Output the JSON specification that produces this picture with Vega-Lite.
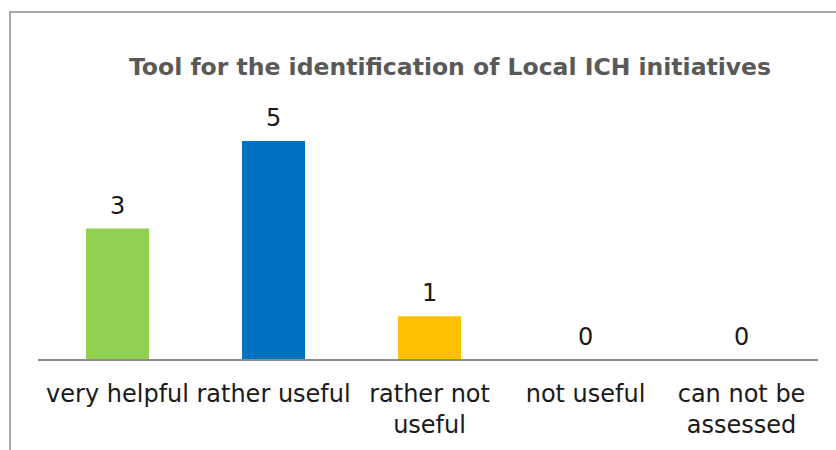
{
  "$schema": "https://vega.github.io/schema/vega-lite/v6.json",
  "width": 880,
  "height": 448,
  "autosize": "none",
  "padding": {"left": 10, "top": 12, "right": 0, "bottom": 0},
  "background": "white",
  "config": {
    "view": {"stroke": "#8c8c8c", "strokeWidth": 1.5},
    "font": "DejaVu Sans"
  },
  "title": {
    "text": "Tool for the identification of Local ICH initiatives",
    "anchor": "middle",
    "frame": "group",
    "orient": "top",
    "baseline": "alphabetic",
    "offset": -86,
    "fontSize": 23.5,
    "fontWeight": "bold",
    "color": "#595959",
    "font": "DejaVu Sans"
  },
  "datasets": {
    "bars": [
      {"category": "very helpful", "value": 3, "color": "#92D050"},
      {"category": "rather useful", "value": 5, "color": "#0070C0"},
      {"category": "rather not useful", "value": 1, "color": "#FFC000"},
      {"category": "not useful", "value": 0, "color": "#FFFFFF"},
      {"category": "can not be assessed", "value": 0, "color": "#FFFFFF"}
    ],
    "base": [
      {"start": "very helpful", "end": "can not be assessed"}
    ]
  },
  "layer": [
    {
      "data": {"name": "bars"},
      "mark": {"type": "bar"},
      "encoding": {
        "x": {
          "field": "category",
          "type": "nominal",
          "sort": null,
          "scale": {
            "domain": ["very helpful", "rather useful", "rather not useful", "not useful", "can not be assessed"],
            "paddingInner": 0.596, "paddingOuter": 0.6185, "align": 0.394
          },
          "axis": {
            "title": null,
            "orient": "bottom",
            "offset": -100,
            "domain": false,
            "ticks": false,
            "labelAngle": 0,
            "labelFontSize": 24,
            "labelColor": "#1a1a1a",
            "labelFont": "DejaVu Sans",
            "labelPadding": 22,
            "labelLineHeight": 31,
            "labelLimit": 0,
            "labelExpr": "datum.value == 'rather not useful' ? ['rather not', 'useful'] : datum.value == 'can not be assessed' ? ['can not be', 'assessed'] : datum.value"
          }
        },
        "y": {
          "field": "value",
          "type": "quantitative",
          "scale": {"domain": [-2.283, 7.945], "nice": false, "zero": false},
          "axis": null
        },
        "y2": {"datum": 0},
        "color": {"field": "color", "type": "nominal", "scale": null, "legend": null}
      }
    },
    {
      "data": {"name": "bars"},
      "mark": {"type": "text", "baseline": "alphabetic", "dy": -15, "fontSize": 24, "color": "#1a1a1a"},
      "encoding": {
        "x": {"field": "category", "type": "nominal", "sort": null},
        "y": {"field": "value", "type": "quantitative"},
        "text": {"field": "value", "type": "quantitative"}
      }
    },
    {
      "data": {"name": "base"},
      "mark": {"type": "rule", "color": "#8c8c8c", "strokeWidth": 2},
      "encoding": {
        "x": {"field": "start", "type": "nominal", "bandPosition": -0.762, "sort": null},
        "x2": {"field": "end", "bandPosition": 1.714},
        "y": {"datum": 0}
      }
    }
  ]
}
